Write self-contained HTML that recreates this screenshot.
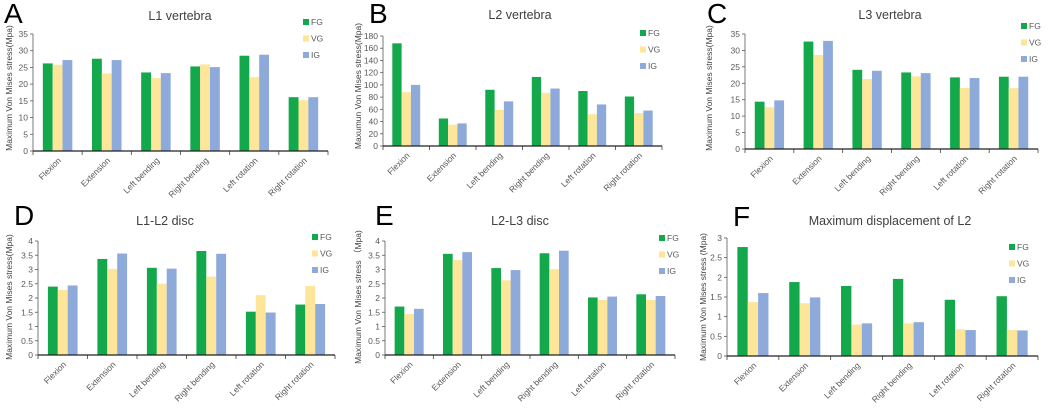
<!DOCTYPE html>
<html><head><meta charset="utf-8"><style>
html,body{margin:0;padding:0;background:#fff;}
svg{display:block;font-family:"Liberation Sans",sans-serif;}
</style></head><body>
<svg id="fig" width="1050" height="412" viewBox="0 0 1050 412"></svg>
<script>
const categories=["Flexion","Extension","Left bending","Right bending","Left rotation","Right rotation"];
const seriesNames=["FG","VG","IG"];
const colors=["#13a84b","#fde59a","#8eaadb"];
const aFG=[26.2,27.6,23.5,25.3,28.5,16.1], aVG=[25.8,23.2,21.8,25.9,22.1,15.2], aIG=[27.2,27.2,23.3,25.1,28.8,16.1];
const bFG=[168,45,92,113,90,81], bVG=[88,35,59,87,52,54], bIG=[100,37,73,94,68,58];
const cFG=[14.4,32.7,24.1,23.3,21.8,22.0], cVG=[12.7,28.6,21.3,22.1,18.6,18.5], cIG=[14.8,32.9,23.8,23.1,21.6,22.0];
const dFG=[2.4,3.37,3.06,3.65,1.52,1.77], dVG=[2.28,3.02,2.5,2.75,2.1,2.42], dIG=[2.44,3.56,3.03,3.55,1.49,1.79];
const eFG=[1.7,3.55,3.05,3.57,2.02,2.13], eVG=[1.44,3.33,2.62,3.01,1.93,1.93], eIG=[1.62,3.61,2.98,3.66,2.05,2.07];
const fFG=[2.77,1.88,1.78,1.96,1.43,1.52], fVG=[1.37,1.34,0.8,0.83,0.68,0.66], fIG=[1.6,1.49,0.83,0.86,0.66,0.65];
const aTicks=[0,5,10,15,20,25,30,35];
const bTicks=[0,20,40,60,80,100,120,140,160,180];
const cTicks=[0,5,10,15,20,25,30,35];
const dTicks=[0,0.5,1,1.5,2,2.5,3,3.5,4];
const eTicks=[0,0.5,1,1.5,2,2.5,3,3.5,4];
const fTicks=[0,0.5,1,1.5,2,2.5,3];

const NS="http://www.w3.org/2000/svg";
const svg=document.getElementById('fig');
function mk(tag,attrs,parent,text){const e=document.createElementNS(NS,tag);for(const k in attrs)e.setAttribute(k,attrs[k]);if(text!==undefined)e.textContent=text;(parent||svg).appendChild(e);return e;}

const panels=[
 {id:"a",letter:"A",lx:4,ly:23,title:"L1 vertebra",tx:180,ty:20,x0:33,x1:328,y0:151,y1:34,ticks:aTicks,data:[aFG,aVG,aIG],ylab:"Maximum Von Mises stress(Mpa)",ylx:9,ymid:88,legx:303,legy:22},
 {id:"b",letter:"B",lx:369,ly:23,title:"L2 vertebra",tx:520,ty:19,x0:383,x1:662,y0:146,y1:36,ticks:bTicks,data:[bFG,bVG,bIG],ylab:"Maxumun Von Mises stress(Mpa)",ylx:358,ymid:86,legx:640,legy:33},
 {id:"c",letter:"C",lx:707,ly:23,title:"L3 vertebra",tx:890,ty:19,x0:745,x1:1038,y0:149,y1:34,ticks:cTicks,data:[cFG,cVG,cIG],ylab:"Maximum Von Mises stress(Mpa)",ylx:709,ymid:88,legx:1021,legy:26},
 {id:"d",letter:"D",lx:14,ly:225,title:"L1-L2 disc",tx:165,ty:225,x0:38,x1:335,y0:355,y1:241,ticks:dTicks,data:[dFG,dVG,dIG],ylab:"Maximum Von Mises stress(Mpa)",ylx:9,ymid:297,legx:312,legy:237},
 {id:"e",letter:"E",lx:375,ly:225,title:"L2-L3 disc",tx:520,ty:225,x0:385,x1:675,y0:355,y1:241,ticks:eTicks,data:[eFG,eVG,eIG],ylab:"Maximum Von Mises stress （Mpa)",ylx:358,ymid:297,legx:659,legy:238},
 {id:"f",letter:"F",lx:733,ly:226,title:"Maximum displacement of L2",tx:890,ty:225,x0:727,x1:1038,y0:356,y1:238,ticks:fTicks,data:[fFG,fVG,fIG],ylab:"Maximum Von Mises stress (Mpa)",ylx:703,ymid:297,legx:1009,legy:247}
];

panels.forEach(p=>{
  const g=mk('g',{});
  
  
  const L=mk('text',{x:p.lx,y:p.ly,'font-size':28,fill:'#000'},g,p.letter);
  
  
  const T=mk('text',{x:p.tx,y:p.ty,'font-size':12.5,fill:'#404040','text-anchor':'middle'},g,p.title);
  
  
  const max=p.ticks[p.ticks.length-1];
  const yS=v=>p.y0-(v/max)*(p.y0-p.y1);
  const cw=(p.x1-p.x0)/categories.length;
  const bw=cw*0.2;
  p.ticks.forEach(t=>{
    const y=yS(t);
    mk('line',{x1:p.x0-3,x2:p.x0,y1:y,y2:y,stroke:'#595959','stroke-width':0.8},g);
    const tl=mk('text',{x:p.x0-5,y:y+3,'font-size':8.5,fill:'#595959','text-anchor':'end'},g,String(t));
    
    
  });
  categories.forEach((c,i)=>{
    p.data.forEach((arr,s)=>{
      const x=p.x0+cw*i+cw*0.2+bw*s;
      const y=yS(arr[i]);
      const r=mk('rect',{x:x,y:y,width:bw,height:p.y0-y,fill:colors[s]},g);
      
      
    });
    const cx=p.x0+cw*(i+0.5);
    const xl=mk('text',{x:0,y:0,'font-size':8.5,fill:'#595959','text-anchor':'end',transform:`translate(${cx+4},${p.y0+10}) rotate(-45)`},g,c);
    
    
  });
  for(let i=0;i<=categories.length;i++){
    const x=p.x0+cw*i;
    mk('line',{x1:x,x2:x,y1:p.y0,y2:p.y0+4,stroke:'#404040','stroke-width':0.8},g);
  }
  const ya=mk('line',{x1:p.x0,x2:p.x0,y1:p.y1,y2:p.y0,stroke:'#595959','stroke-width':0.8},g);
  
  
  const xa=mk('line',{x1:p.x0,x2:p.x1,y1:p.y0,y2:p.y0,stroke:'#222','stroke-width':1.3},g);
  
  
  const yl=mk('text',{x:0,y:0,'font-size':8.5,fill:'#404040','text-anchor':'middle',transform:`translate(${p.ylx+3},${p.ymid}) rotate(-90)`},g,p.ylab);
  
  
  seriesNames.forEach((n,s)=>{
    const yy=p.legy+s*16.5;
    const lg=mk('g',{},g);
    
    
    mk('rect',{x:p.legx,y:yy-3,width:6,height:6,fill:colors[s]},lg);
    mk('text',{x:p.legx+8,y:yy+3,'font-size':8.5,fill:'#595959'},lg,n);
  });
});
</script>
</body></html>
